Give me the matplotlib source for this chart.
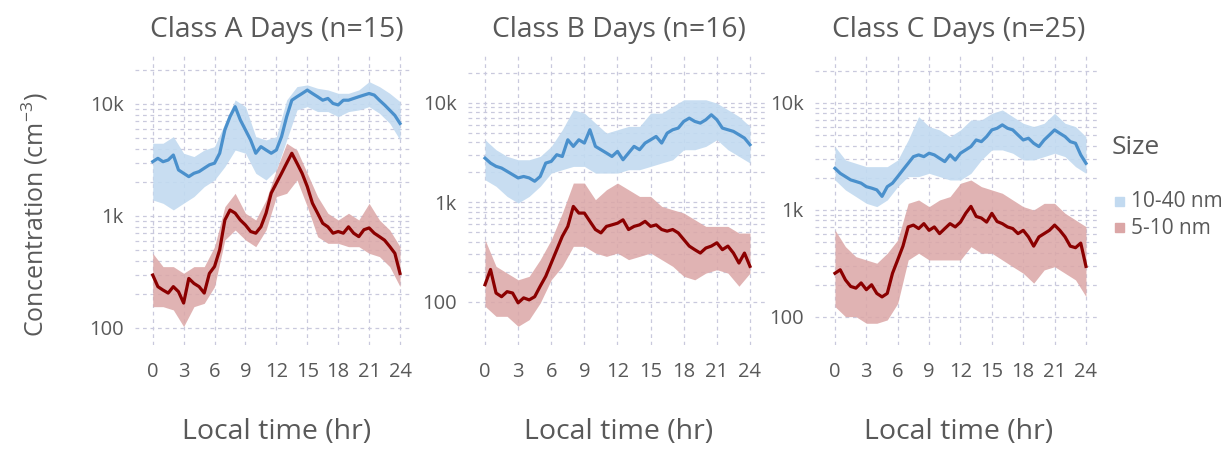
import numpy as np
import matplotlib
matplotlib.use('Agg')
import matplotlib.pyplot as plt
from matplotlib.ticker import FixedLocator, FixedFormatter, NullFormatter

plt.rcParams['font.family'] = ['Open Sans', 'DejaVu Sans']
plt.rcParams['mathtext.default'] = 'regular'

# ---------- data ----------
t_line = [i * 0.5 for i in range(49)]   # half-hourly mean
t_band = list(range(25))                # hourly band limits

titles = ['Class A Days (n=15)', 'Class B Days (n=16)', 'Class C Days (n=25)']
size_labels = ['10-40 nm', '5-10 nm']

# Class A
a_big = [3055, 3270, 3050, 3160, 3500, 2576, 2404, 2245, 2404, 2490, 2670, 2860, 2960,
         3630, 5860, 7700, 9460, 7200, 5860, 4770, 3630, 4160, 3880, 3630, 3880,
         5100, 7700, 10800, 11600, 12400, 13300, 12400, 11600, 10800, 11200, 10100,
         9800, 10800, 10800, 11200, 11600, 12000, 12400, 12000, 10800, 9800, 8800, 7900, 6700]
a_big_hi = [4457, 4460, 5110, 3630, 3390, 3882, 4160, 6720, 10860, 9460, 5110, 4775, 5110,
            10860, 14290, 14790, 13800, 13340, 12450, 12450, 13340, 15820, 14290, 12450, 10490]
a_big_lo = [1390, 1297, 1132, 1300, 1489, 1828, 2096, 2756, 3880, 3630, 2404, 2096, 2576,
            4775, 8840, 9460, 8550, 8550, 7700, 8550, 8840, 9460, 8260, 6720, 4775]
a_small = [297, 234, 218, 205, 234, 211, 167, 277, 250, 234, 205, 307, 354,
           500, 920, 1130, 1060, 920, 830, 727, 702, 800, 1060, 1600, 1960,
           2400, 2960, 3630, 2960, 2400, 1830, 1300, 1060, 860, 800, 702,
           727, 702, 800, 702, 654, 754, 782, 702, 654, 608, 534, 464, 307]
a_small_hi = [464, 353, 353, 308, 353, 353, 532, 1211, 1593, 1057, 921, 1390, 2576,
              4457, 3880, 2404, 1489, 1057, 921, 1057, 921, 1297, 921, 750, 532]
a_small_lo = [155, 155, 145, 103, 155, 166, 234, 611, 750, 611, 532, 750, 1489,
              1593, 2096, 1211, 653, 570, 570, 532, 532, 464, 434, 353, 234]

# Class B
b_big = [2780, 2480, 2300, 2210, 2050, 1900, 1760, 1820, 1760, 1630, 1820, 2480, 2580,
         3010, 2890, 4250, 3650, 4250, 3940, 5360, 3650, 3380, 3130, 2890, 3250,
         2680, 3130, 3650, 3380, 3940, 4250, 4590, 3940, 4960, 5360, 5570,
         6500, 7010, 6500, 6250, 6750, 7580, 6750, 5570, 5360, 5160, 4780, 4420, 3790]
b_big_hi = [4256, 3377, 2897, 2679, 2679, 2897, 3648, 5360, 8510, 7870, 6250, 4960, 5360,
            5790, 5790, 7870, 7870, 9190, 10720, 10720, 10720, 9920, 8510, 7290, 5790]
b_big_lo = [1687, 1449, 1148, 984, 1148, 1449, 1968, 2128, 2297, 2297, 1968, 1968, 1968,
            2128, 2128, 2297, 2483, 2679, 3377, 3377, 3648, 4256, 3377, 2897, 2483]
b_small = [149, 212, 123, 113, 127, 123, 98, 110, 105, 113, 144, 181, 246,
           335, 456, 574, 911, 781, 781, 645, 534, 494, 574, 595, 618,
           668, 534, 574, 595, 645, 574, 595, 534, 514, 534, 494,
           424, 364, 335, 310, 348, 364, 393, 335, 364, 310, 246, 310, 228]
b_small_hi = [422, 228, 195, 167, 181, 266, 422, 782, 1563, 1563, 1064, 1340, 1563,
              1340, 1148, 1148, 912, 844, 782, 670, 574, 574, 574, 492, 492]
b_small_lo = [90.6, 71.8, 71.8, 57, 66.5, 97.7, 167, 228, 362, 362, 310, 287, 310,
              266, 287, 310, 266, 228, 181, 167, 195, 211, 195, 144, 195]

# Class C
c_big = [2450, 2200, 2050, 1910, 1845, 1780, 1650, 1600, 1540, 1340, 1650, 1780, 2050,
         2370, 2730, 3150, 3270, 3150, 3390, 3270, 3040, 2830, 3270, 2930, 3390,
         3640, 3910, 4510, 4350, 4850, 5600, 5800, 6240, 5800, 5600, 5020,
         4510, 4680, 4200, 3910, 4510, 5020, 5600, 5200, 4850, 4350, 4200, 3270, 2730]
c_big_hi = [3910, 2934, 2730, 2540, 2540, 2540, 2934, 4510, 7450, 6010, 5600, 4840, 5600,
            6940, 6940, 8000, 8610, 7450, 6460, 6010, 6460, 8000, 6460, 6010, 4840]
c_big_lo = [1906, 1538, 1333, 1153, 1074, 1240, 1652, 2050, 2050, 2200, 2050, 1906, 1906,
            2200, 2934, 3640, 3640, 3390, 2934, 2934, 3150, 3390, 3150, 2540, 2200]
c_small = [256, 276, 222, 193, 186, 208, 180, 200, 166, 154, 166, 256, 342,
           459, 694, 722, 670, 745, 645, 694, 601, 670, 745, 694, 770,
           930, 1080, 870, 840, 770, 930, 780, 745, 694, 670, 601,
           645, 560, 459, 560, 601, 645, 722, 645, 560, 459, 444, 490, 297]
c_small_hi = [650, 454, 366, 341, 318, 394, 525, 1153, 1240, 1074, 1240, 1333, 1775,
              1906, 1652, 1538, 1432, 1240, 1074, 1000, 1153, 1153, 931, 807, 698]
c_small_lo = [125, 100.7, 100.7, 87.3, 87.3, 93.8, 134, 341, 394, 341, 341, 341, 341,
              454, 394, 394, 341, 295, 256, 207, 275, 295, 256, 222, 155]

panels = [
    (a_big, a_big_lo, a_big_hi, a_small, a_small_lo, a_small_hi),
    (b_big, b_big_lo, b_big_hi, b_small, b_small_lo, b_small_hi),
    (c_big, c_big_lo, c_big_hi, c_small, c_small_lo, c_small_hi),
]

# ---------- style ----------
BLUE, BLUE_BAND = '#4a90cc', '#c2daf0'
RED, RED_BAND = '#8b0000', '#dba6a6'
GRID = '#c9c9dd'
TXT = '#595959'

# axes boxes in pixels (left, right) and limits, per panel
boxes = [(135, 413), (468, 765), (815, 1098)]
xlims = [(-1.72, 25.26), (-1.54, 25.36), (-1.91, 25.15)]
ylims = [(70.5, 28500), (37, 31600), (54.7, 29300)]

W, H = 1230, 449
fig = plt.figure(figsize=(W / 100, H / 100), dpi=100)

# minor grid: 200..900, 2k..9k, 20k
minor_vals = [k * 10 ** d for d in (2, 3) for k in range(2, 10)] + [20000]

for i, (big, big_lo, big_hi, small, small_lo, small_hi) in enumerate(panels):
    x0, x1 = boxes[i]
    ax = fig.add_axes([x0 / W, (H - 345) / H, (x1 - x0) / W, 292 / H])
    ax.set_yscale('log')

    ax.fill_between(t_band, big_lo, big_hi, color=BLUE_BAND, lw=0, alpha=0.9)
    ax.fill_between(t_band, small_lo, small_hi, color=RED_BAND, lw=0, alpha=0.85)
    ax.plot(t_line, big, color=BLUE, lw=2.3)
    ax.plot(t_line, small, color=RED, lw=2.3)

    ax.set_xlim(*xlims[i])
    ax.set_ylim(*ylims[i])
    ax.set_xticks(range(0, 25, 3))
    ax.yaxis.set_major_locator(FixedLocator([100, 1000, 10000]))
    ax.yaxis.set_major_formatter(FixedFormatter(['100', '1k', '10k']))
    ax.yaxis.set_minor_locator(FixedLocator(minor_vals))
    ax.yaxis.set_minor_formatter(NullFormatter())
    ax.grid(True, which='both', axis='y', color=GRID, ls=(0, (3, 3)), lw=0.9)
    ax.grid(True, which='major', axis='x', color=GRID, ls=(0, (3, 3)), lw=0.9)
    ax.set_axisbelow(True)
    ax.tick_params(which='both', length=0, labelsize=14.5, colors=TXT)
    ax.tick_params(axis='x', pad=12)
    ax.tick_params(axis='y', pad=8)
    for s in ax.spines.values():
        s.set_visible(False)

    xc = (x0 + x1) / 2 / W + 0.002
    fig.text(xc, 1 - 30 / H, titles[i], fontsize=20.3, color=TXT, ha='center', va='center')
    fig.text(xc, 1 - 432 / H, 'Local time (hr)', fontsize=20.5, color=TXT,
             ha='center', va='center')

fig.text(35 / W, 1 - 215 / H, 'Concentration (cm$^{-3}$)', fontsize=18, color=TXT,
         rotation=90, ha='center', va='center')

# legend
fig.text(1112 / W, 1 - 148 / H, 'Size', fontsize=19, color=TXT, va='center', ha='left')
for j, (lab, col) in enumerate(zip(size_labels, [BLUE_BAND, RED_BAND])):
    yy = 1 - (201 + 27 * j) / H
    fig.patches.append(plt.Rectangle((1115 / W, yy - 4.5 / H), 9 / W, 9 / H,
                                     transform=fig.transFigure, color=col))
    fig.text(1131 / W, yy, lab, fontsize=15, color=TXT, va='center', ha='left')

fig.savefig('out.png', dpi=100)
